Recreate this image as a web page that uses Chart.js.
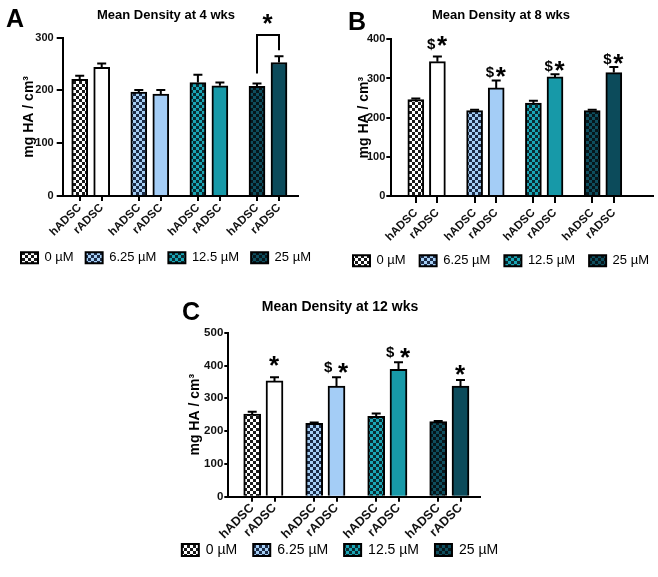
<!DOCTYPE html>
<html>
<head>
<meta charset="utf-8">
<script src="https://cdn.jsdelivr.net/npm/chart.js@4.4.1/dist/chart.umd.min.js"></script>
<style>
  html, body { margin: 0; padding: 0; background: #fff; }
  body { position: relative; width: 658px; height: 577px; overflow: hidden; font-family: "Liberation Sans", Arial, sans-serif; }
  .panel { position: absolute; }
  .letter { position: absolute; font: bold 25px/25px "Liberation Sans", Arial, sans-serif; color: #000; }
</style>
</head>
<body>
<div class="panel" style="left:4px;top:0px"><canvas id="chartA" width="324" height="290"></canvas></div>
<div class="panel" style="left:334px;top:0px"><canvas id="chartB" width="334" height="290"></canvas></div>
<div class="panel" style="left:160px;top:290px"><canvas id="chartC" width="360" height="287"></canvas></div>
<div class="letter" style="left:6px;top:6px">A</div>
<div class="letter" style="left:348px;top:9px">B</div>
<div class="letter" style="left:182px;top:299px">C</div>
<script>
// ---------------- DATA ----------------
const cellTypes = ['hADSC', 'rADSC'];
const concLabels = ['0 µM', '6.25 µM', '12.5 µM', '25 µM'];
const yAxisTitle = 'mg HA / cm³';

// 4 weeks
const wk4Title = 'Mean Density at 4 wks';
const wk4Max = 300;
const wk4H = [221, 197, 215, 208];
const wk4HErr = [7, 4, 15, 5];
const wk4R = [244, 193, 209, 253];
const wk4RErr = [7, 8, 6, 12];
const wk4RMarks = ['', '', '', ''];
const wk4BracketGroup = 3;
const wk4BracketTop = 305;
const wk4BracketMark = '*';

// 8 weeks
const wk8Title = 'Mean Density at 8 wks';
const wk8Max = 400;
const wk8H = [246, 218, 237, 218];
const wk8HErr = [3, 2, 6, 2];
const wk8R = [343, 276, 304, 315];
const wk8RErr = [13, 19, 7, 14];
const wk8RMarks = ['$*', '$*', '$*', '$*'];

// 12 weeks
const wk12Title = 'Mean Density at 12 wks';
const wk12Max = 500;
const wk12H = [252, 224, 245, 229];
const wk12HErr = [7, 2, 9, 2];
const wk12R = [353, 337, 388, 337];
const wk12RErr = [11, 27, 22, 19];
const wk12RMarks = ['*', '$ *', '$ *', '*'];

const yStep = 100;

// ---------------- STYLE ----------------
const FONT = '"Liberation Sans", Arial, sans-serif';
Chart.defaults.font.family = FONT;
Chart.defaults.color = '#111';

const hColors = [['#ffffff', '#1a1a1a'], ['#a6cff5', '#1c2c48'], ['#1aa6b6', '#0a2c32'], ['#0e4e5e', '#06161b']];
const rColors = ['#ffffff', '#a4cdf6', '#1799a8', '#0c4b5b'];

function checker(c1, c2, s) {
  const cv = document.createElement('canvas');
  cv.width = 2 * s; cv.height = 2 * s;
  const g = cv.getContext('2d');
  g.fillStyle = c1; g.fillRect(0, 0, 2 * s, 2 * s);
  g.fillStyle = c2; g.fillRect(0, 0, s, s); g.fillRect(s, s, s, s);
  return g.createPattern(cv, 'repeat');
}

function drawMark(ctx, text, cx, cy, starSize, dollarSize) {
  const pieces = [];
  for (const ch of text) {
    if (ch === ' ') { pieces.push({ gap: 3 }); continue; }
    const size = ch === '*' ? starSize : dollarSize;
    ctx.font = 'bold ' + size + 'px ' + FONT;
    const m = ctx.measureText(ch);
    pieces.push({ ch, size, w: m.actualBoundingBoxLeft + m.actualBoundingBoxRight, left: m.actualBoundingBoxLeft, asc: m.actualBoundingBoxAscent, desc: m.actualBoundingBoxDescent });
  }
  let total = 0;
  pieces.forEach((p, i) => { total += p.gap ? p.gap : p.w; if (i > 0) total += 1; });
  let x = cx - total / 2;
  ctx.fillStyle = '#000';
  ctx.textAlign = 'left';
  ctx.textBaseline = 'alphabetic';
  pieces.forEach((p) => {
    if (p.gap) { x += p.gap + 1; return; }
    ctx.font = 'bold ' + p.size + 'px ' + FONT;
    ctx.fillText(p.ch, x + p.left, cy + (p.asc - p.desc) / 2);
    x += p.w + 1;
  });
}

function makePanel(canvasId, title, yMax, hVals, hErr, rVals, rErr, rMarks, L, bracket) {
  const pos = (g, c) => L.first + g * L.period + c * L.gap;
  const tickPositions = [];
  for (let g = 0; g < hVals.length; g++) { tickPositions.push(pos(g, 0), pos(g, 1)); }
  const hPatterns = hColors.map(c => checker(c[0], c[1], 3));

  const decorations = {
    id: 'decorations',
    afterLayout(chart) {
      // let the rotated category labels run below the axis box without being clipped
      chart.scales.x.bottom += L.labelRoom;
    },
    afterDatasetsDraw(chart) {
      const ctx = chart.ctx;
      const ys = chart.scales.y;
      ctx.save();
      chart.data.datasets.forEach((ds, di) => {
        const meta = chart.getDatasetMeta(di);
        meta.data.forEach((bar, i) => {
          const v = ds.data[i].y;
          const yTop = ys.getPixelForValue(v + ds.errors[i]);
          ctx.strokeStyle = '#000';
          ctx.lineWidth = 2;
          ctx.beginPath();
          ctx.moveTo(bar.x, bar.y);
          ctx.lineTo(bar.x, yTop);
          ctx.moveTo(bar.x - L.cap, yTop);
          ctx.lineTo(bar.x + L.cap, yTop);
          ctx.stroke();
          if (ds.marks && ds.marks[i]) {
            drawMark(ctx, ds.marks[i], bar.x, yTop - L.markGap, L.starSize, L.dollarSize);
          }
        });
      });
      if (bracket) {
        const g = bracket.group;
        const hb = chart.getDatasetMeta(0).data[g];
        const rb = chart.getDatasetMeta(1).data[g];
        const d0 = chart.data.datasets[0], d1 = chart.data.datasets[1];
        const yL = ys.getPixelForValue(d0.data[g].y + d0.errors[g]) - 10;
        const yR = ys.getPixelForValue(d1.data[g].y + d1.errors[g]) - 6;
        const yT = ys.getPixelForValue(bracket.top);
        ctx.strokeStyle = '#000';
        ctx.lineWidth = 2;
        ctx.beginPath();
        ctx.moveTo(hb.x, yL); ctx.lineTo(hb.x, yT); ctx.lineTo(rb.x, yT); ctx.lineTo(rb.x, yR);
        ctx.stroke();
        drawMark(ctx, bracket.mark, (hb.x + rb.x) / 2, yT - 8.5, L.starSize, L.dollarSize);
      }
      ctx.restore();
    }
  };

  return new Chart(document.getElementById(canvasId), {
    type: 'bar',
    data: {
      datasets: [
        {
          label: cellTypes[0],
          data: hVals.map((v, g) => ({ x: pos(g, 0), y: v })),
          errors: hErr,
          backgroundColor: hPatterns,
          borderColor: '#000', borderWidth: 2,
          xAxisID: 'x', yAxisID: 'y'
        },
        {
          label: cellTypes[1],
          data: rVals.map((v, g) => ({ x: pos(g, 1), y: v })),
          errors: rErr,
          marks: rMarks,
          backgroundColor: rColors,
          borderColor: '#000', borderWidth: 2,
          xAxisID: 'x', yAxisID: 'y'
        }
      ]
    },
    options: {
      responsive: false,
      animation: false,
      events: [],
      grouped: false,
      barPercentage: 1,
      categoryPercentage: 1,
      maxBarThickness: L.barW,
      layout: { padding: { left: 0, right: 0, top: 0, bottom: L.padBottom } },
      scales: {
        x: {
          type: 'linear',
          offset: false,
          min: 0, max: L.axisLen,
          afterBuildTicks(s) { s.ticks = tickPositions.map(v => ({ value: v })); },
          afterFit(s) { s.height = L.xAxisH; },
          ticks: {
            autoSkip: false, minRotation: 45, maxRotation: 45,
            font: { size: L.xFont, weight: 'bold' }, color: '#111', padding: L.xTickPad,
            callback: (v, i) => cellTypes[i % 2]
          },
          grid: { display: true, offset: false, drawOnChartArea: false, drawTicks: true, tickLength: L.xTickLen, color: '#000', lineWidth: 2 },
          border: { display: true, color: '#000', width: 2 }
        },
        y: {
          type: 'linear', position: 'left',
          min: 0, max: yMax,
          afterFit(s) { s.width = L.yAxisW; },
          ticks: { stepSize: yStep, font: { size: L.yFont, weight: 'bold' }, color: '#111', padding: L.tickPad },
          grid: { display: true, drawOnChartArea: false, drawTicks: true, tickLength: L.tickLen, color: '#000', lineWidth: 2 },
          border: { display: true, color: '#000', width: 2 },
          title: { display: true, text: yAxisTitle, font: { size: 14, weight: 'bold' }, color: '#000', padding: { top: L.yTitlePad, bottom: 0 } }
        },
        yR: {
          type: 'linear', position: 'right', display: true,
          afterFit(s) { s.width = L.rightW; },
          ticks: { display: false },
          grid: { display: false },
          border: { display: false }
        }
      },
      plugins: {
        title: {
          display: true, text: title, color: '#000',
          font: { size: L.titleSize, weight: 'bold' },
          padding: { top: L.titlePadTop, bottom: L.titlePadBottom }
        },
        legend: {
          display: true, position: 'bottom', onClick: null,
          labels: {
            boxWidth: 17, boxHeight: L.boxH, padding: L.legendPad, color: '#111',
            font: { size: L.legendFont },
            generateLabels: () => concLabels.map((t, g) => ({
              text: t, fillStyle: hPatterns[g], strokeStyle: '#000', lineWidth: 2, hidden: false, index: g
            }))
          }
        },
        tooltip: { enabled: false }
      }
    },
    plugins: [decorations]
  });
}

// ---------------- LAYOUT ----------------
const layoutA = { first: 17, gap: 22, period: 59.1, axisLen: 235.3, barW: 16, yAxisW: 58.7, rightW: 30,
  titleSize: 13, titlePadTop: 7.7, titlePadBottom: 14.4, xAxisH: 43.3, padBottom: 15.7, labelRoom: 10,
  legendFont: 13, legendPad: 12, boxH: 11, yTitlePad: 16.3, tickLen: 6, tickPad: 3, yFont: 11,
  xFont: 11.5, xTickPad: 0, xTickLen: 5,
  cap: 4.5, markGap: 9, starSize: 26, dollarSize: 15 };
const layoutB = { first: 24.5, gap: 21.6, period: 58.8, axisLen: 261.7, barW: 16, yAxisW: 57.3, rightW: 15,
  titleSize: 13, titlePadTop: 7.2, titlePadBottom: 16.5, xAxisH: 44.2, padBottom: 12.8, labelRoom: 10,
  legendFont: 13, legendPad: 14, boxH: 11, yTitlePad: 22.1, tickLen: 5, tickPad: 1, yFont: 11,
  xFont: 11.5, xTickPad: 3, xTickLen: 7,
  cap: 4.5, markGap: 8, starSize: 26, dollarSize: 15 };
const layoutC = { first: 23.9, gap: 22.3, period: 62, axisLen: 251.7, barW: 17, yAxisW: 68.3, rightW: 40,
  titleSize: 14, titlePadTop: 8.3, titlePadBottom: 17.6, xAxisH: 30.3, padBottom: 10, labelRoom: 25,
  legendFont: 14, legendPad: 16, boxH: 12, yTitlePad: 26.6, tickLen: 4, tickPad: 1, yFont: 11.5,
  xFont: 12.5, xTickPad: -1, xTickLen: 5,
  cap: 4.5, markGap: 9.5, starSize: 26, dollarSize: 15 };

makePanel('chartA', wk4Title, wk4Max, wk4H, wk4HErr, wk4R, wk4RErr, wk4RMarks, layoutA,
  { group: wk4BracketGroup, top: wk4BracketTop, mark: wk4BracketMark });
makePanel('chartB', wk8Title, wk8Max, wk8H, wk8HErr, wk8R, wk8RErr, wk8RMarks, layoutB, null);
makePanel('chartC', wk12Title, wk12Max, wk12H, wk12HErr, wk12R, wk12RErr, wk12RMarks, layoutC, null);
</script>
</body>
</html>
